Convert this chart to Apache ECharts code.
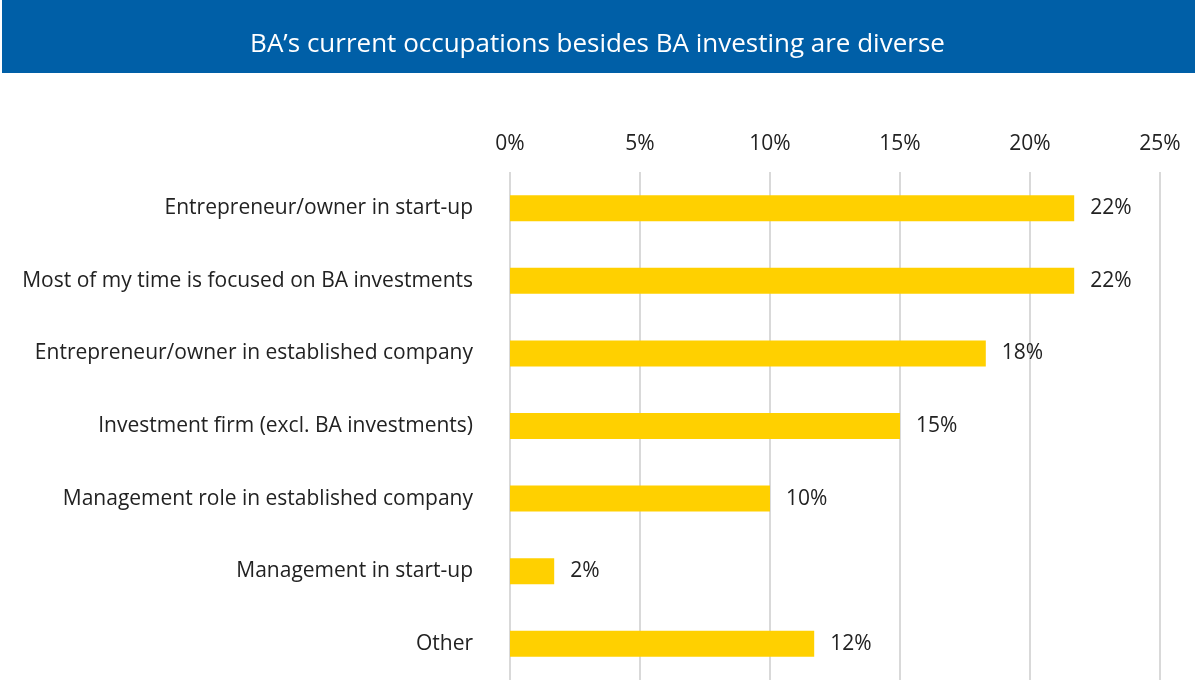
<!DOCTYPE html>
<html>
<head>
<meta charset="utf-8">
<script src="https://cdn.jsdelivr.net/npm/echarts@6/dist/echarts.min.js"></script>
<style>
html,body{margin:0;padding:0;background:#fff;}
#chart{width:1195px;height:681px;}
</style>
</head>
<body>
<div id="chart"></div>
<script>
const titleText = 'BA\u2019s current occupations besides BA investing are diverse';
const categories = [
  'Entrepreneur/owner in start-up',
  'Most of my time is focused on BA investments',
  'Entrepreneur/owner in established company',
  'Investment firm (excl. BA investments)',
  'Management role in established company',
  'Management in start-up',
  'Other'
];
const values = [21.7, 21.7, 18.3, 15.0, 10.0, 1.7, 11.7];
const xTicks = { min: 0, max: 25, interval: 5 };

const FONT = 'Open Sans';
const chart = echarts.init(document.getElementById('chart'), null, { renderer: 'canvas' });
chart.setOption({
  animation: false,
  backgroundColor: '#ffffff',
  graphic: [{
    type: 'rect',
    shape: { x: 2, y: 0, width: 1193, height: 73 },
    style: { fill: '#005FA7' },
    z: 0
  }],
  title: {
    text: titleText,
    left: 'center',
    top: 27,
    textStyle: { color: '#ffffff', fontFamily: FONT, fontSize: 26, fontWeight: 'normal' },
    z: 10
  },
  grid: { left: 510, right: 35, top: 172, bottom: 1, containLabel: false },
  xAxis: {
    type: 'value',
    position: 'top',
    min: xTicks.min, max: xTicks.max, interval: xTicks.interval,
    axisLine: { show: false },
    axisTick: { show: false },
    axisLabel: { formatter: '{value}%', color: '#222', fontFamily: FONT, fontSize: 21, margin: 17 },
    splitLine: { show: true, lineStyle: { color: '#d9d9d9', width: 2 } }
  },
  yAxis: {
    type: 'category',
    inverse: true,
    data: categories,
    axisLine: { show: false },
    axisTick: { show: false },
    axisLabel: { color: '#222', fontFamily: FONT, fontSize: 21, margin: 37 }
  },
  series: [{
    type: 'bar',
    data: values,
    barWidth: 26,
    itemStyle: { color: '#FFD000' },
    label: {
      show: true,
      position: 'right',
      distance: 16,
      color: '#222',
      fontFamily: FONT,
      fontSize: 21,
      formatter: p => Math.round(p.value) + '%'
    }
  }]
});
</script>
</body>
</html>
